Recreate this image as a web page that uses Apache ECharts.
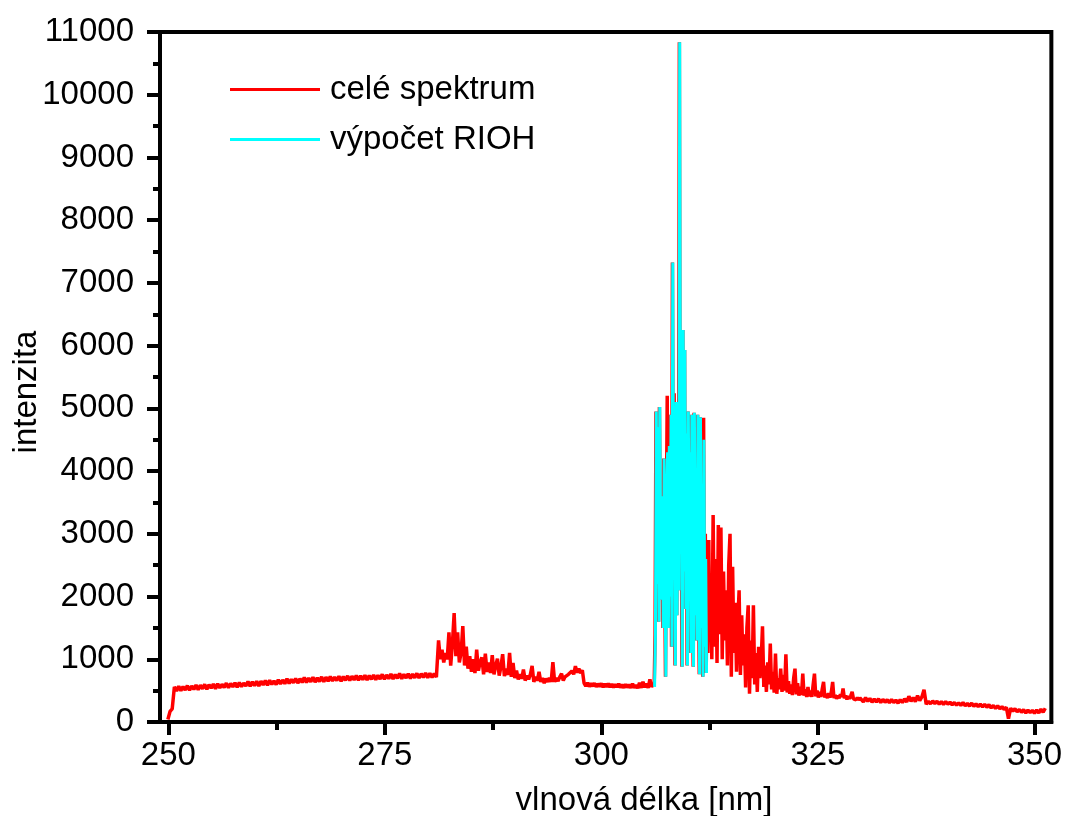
<!DOCTYPE html>
<html><head><meta charset="utf-8">
<script src="https://cdn.jsdelivr.net/npm/echarts@6/dist/echarts.min.js"></script>
<style>html,body{margin:0;padding:0;background:#fff}#c{width:1065px;height:816px}</style>
</head><body><div id="c"></div>
<script>
// ---- tick labels / names ----
const xTicks = [250, 275, 300, 325, 350];
const xMinorTicks = [262.5, 287.5, 312.5, 337.5];
const seriesNames = ['celé spektrum', 'výpočet RIOH'];
const xName = 'vlnová délka [nm]';
const yName = 'intenzita';

// ---- red spectrum ("celé spektrum"), segments on a wavelength grid ----
const redA_start = 249.95, redA_step = 0.25;
const redA = [40,170,210,
560,495,570,500,565,510,580,505,575,520,
590,515,585,530,600,520,595,540,605,530,
610,545,600,550,620,545,615,560,625,555,
630,565,620,575,645,570,640,580,650,575,
650,590,660,585,665,600,655,595,675,605,
670,610,690,615,680,625,695,620,690,630,
710,630,700,640,715,635,705,645,720,640,
715,650,725,655,715,660,730,650,725,665,
735,660,730,670,740,665,735,675,745,670,
740,680,750,675,745,685,760,680,750,690,
765,685,755,695,775,690,760,700,770,695,
765,705,775,700,770,710,780,705,775,710,
770,715];

const redB_start = 281.0, redB_step = 0.2;
const redB = [720,1300,1000,1150,950,1100,1000,1430,900,1250,
1735,1050,1430,950,1100,1530,900,1200,850,1050,
800,1000,780,1155,820,950,1030,760,1090,800,
950,780,1065,760,900,1010,740,880,1080,730,
850,750,1100,720,940,700,820,680,760,690,
835,660,740,680,760,895,640,720,660,800,
640,700,620,690,640,700,640,955,640,700,
650,720,770,660,720,690,760,730,815,760,
890,790,850,780,825,620,570,625,565,615,
570,620,560,610,565,615,555,610,560,615,
555,605,550,600,555,610,550,595,545,600,
550,595,545,610,545,590,540,625,545,640,
555,610,545,680,560];

const redC_start = 306.0, redC_step = 0.1;
const redC = [560,620,1400,4950,2200,4700,1600,5020,3000,1950,
3600,1500,4200,2600,720,3300,5200,1500,4400,2000,
4900,1200,7325,2800,5240,900,5100,1700,4000,2100,
10835,3200,5000,880,6250,2400,5930,1800,4600,900,
4950,2000,4300,1100,4900,2600,880,4930,1700,4000,
1300,4900,2200,760,4860,1500,3800,720,4850,1200,
3000,780,2400,1100,2900,1300];

const redD_start = 312.6, redD_step = 0.15;
const redD = [2200,1000,3300,1200,2600,940,3140,1400,3100,1000,
2400,1300,2100,900,2500,3000,720,2475,1100,1900,
800,1600,2100,750,1700,900,1400,550,1500,1860,
450,1300,700,1860,600,1100,480,1200,700,1000,
1525,560,900,480,950,600,1250,520,800,470,
1090,450,700,520,850,480,750,500,1080,470,
650,450,600,430,700,850,440,620,420,560,
430,770,420,520,400,560,410,500,400,600,
770,410,500,390,480,400,530,640,390,450,
380,460,390,480,640,380,430,370,420,380,
440,400,535,380,420,360,410,370,420,480,
370,400,355,390,350,385];

const redE_start = 330.0, redE_step = 0.25;
const redE = [370,320,390,330,375,315,365,320,370,310,
360,315,355,305,360,310,350,300,355,310,
370,320,410,330,390,325,420,340,400,515,
285,330,290,335,295,330,285,325,280,325,
285,315,275,310,270,305,265,310,260,295,
255,300,250,290,245,285,240,280,235,275,
225,265,215,260,210,245,200,235,55,220,
175,210,165,200,155,195,145,190,150,185,
140,190,145,205,155,220];

// ---- cyan calculation ("výpočet RIOH") ----
const cyan_start = 306.14, cyan_step = 0.1;
const cyan = [560,1400,4950,2200,4700,1600,5020,3000,1950,
3600,1500,4200,2600,720,3300,4300,1500,4400,2000,
4900,1200,7325,2800,4900,900,5100,1700,4000,2100,
10835,3200,5000,880,6250,2400,5930,1800,4600,900,
4950,2000,4300,1100,4900,2600,880,4930,1700,4000,
1300,4900,2200,760,4860,1500,3800,720,4500,1200,
2600,780];

function seg(start, step, vals) {
  return vals.map((v, i) => [Math.round((start + i * step) * 1000) / 1000, v]);
}
const redData = [].concat(
  seg(redA_start, redA_step, redA),
  seg(redB_start, redB_step, redB),
  seg(redC_start, redC_step, redC),
  seg(redD_start, redD_step, redD),
  seg(redE_start, redE_step, redE)
);
const cyanData = seg(cyan_start, cyan_step, cyan);

const FONT = '"Liberation Sans", Arial, sans-serif';
const FS = 33;
const chart = echarts.init(document.getElementById('c'), null, {renderer: 'canvas'});
chart.setOption({
  animation: false,
  backgroundColor: '#fff',
  grid: {left: 160, right: 12, top: 32, bottom: 94, show: true, borderColor: '#000', borderWidth: 4, backgroundColor: 'transparent'},
  xAxis: [{
    type: 'value', min: 249.04, max: 351.95, position: 'bottom',
    axisLine: {lineStyle: {color: '#000', width: 4}},
    axisTick: {customValues: xTicks, length: 13, lineStyle: {color: '#000', width: 4}},
    axisLabel: {customValues: xTicks, fontSize: FS, fontFamily: FONT, color: '#000', margin: 17,
      formatter: v => String(v)},
    splitLine: {show: false}
  }, {
    type: 'value', min: 249.04, max: 351.95, position: 'bottom',
    axisLine: {show: false},
    axisTick: {customValues: xMinorTicks, length: 8, lineStyle: {color: '#000', width: 4}},
    axisLabel: {show: false},
    splitLine: {show: false}
  }],
  yAxis: {
    type: 'value', min: 0, max: 11000, interval: 1000,
    axisLine: {show: true, lineStyle: {color: '#000', width: 4}},
    axisTick: {show: true, length: 13, lineStyle: {color: '#000', width: 4}},
    minorTick: {show: true, splitNumber: 2, length: 7, lineStyle: {color: '#000', width: 4}},
    axisLabel: {fontSize: FS, fontFamily: FONT, color: '#000', margin: 26, formatter: v => String(v)},
    splitLine: {show: false}
  },
  legend: {
    orient: 'vertical', left: 225, top: 68, itemWidth: 90, itemHeight: 3, itemGap: 17,
    icon: 'rect', selectedMode: false, data: seriesNames,
    textStyle: {fontSize: FS, fontFamily: FONT, color: '#000', padding: [0, 0, 0, 5]}
  },
  series: [{
    name: seriesNames[0], type: 'line', data: redData, showSymbol: false, symbol: 'none',
    lineStyle: {color: '#ff0000', width: 3.5}, itemStyle: {color: '#ff0000'}, sampling: null
  }, {
    name: seriesNames[1], type: 'line', data: cyanData, showSymbol: false, symbol: 'none',
    lineStyle: {color: '#00ffff', width: 3}, itemStyle: {color: '#00ffff'}
  }],
  graphic: [{
    type: 'text', x: 644, y: 801,
    style: {text: xName, fontSize: FS, fontFamily: FONT, fill: '#000', align: 'center', verticalAlign: 'middle'}
  }, {
    type: 'text', x: 27, y: 392, rotation: Math.PI / 2,
    style: {text: yName, fontSize: FS, fontFamily: FONT, fill: '#000', align: 'center', verticalAlign: 'middle'}
  }]
});
</script></body></html>
